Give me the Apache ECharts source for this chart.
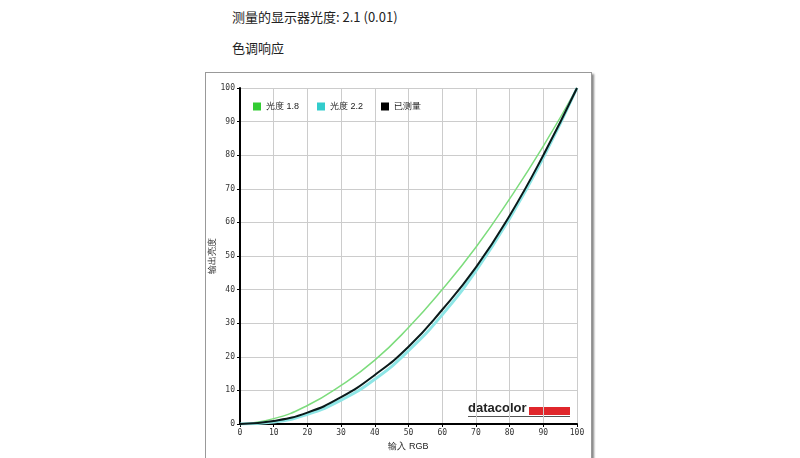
<!DOCTYPE html>
<html><head><meta charset="utf-8">
<script src="https://cdn.jsdelivr.net/npm/echarts@6/dist/echarts.min.js"></script>
<style>
body{margin:0;background:#fff;font-family:"Noto Sans CJK SC","Noto Sans",sans-serif;}
.t{position:absolute;left:232px;font-size:13px;color:#222;}
#box{position:absolute;left:205px;top:72px;width:385px;height:400px;border:1px solid #999;box-shadow:2px 2px 2px #888;}
#c{position:absolute;left:0;top:0;width:800px;height:458px;}
</style></head><body>
<div class="t" style="top:7px">测量的显示器光度: 2.1 (0.01)</div>
<div class="t" style="top:38px">色调响应</div>
<div id="box"></div>
<div id="c"></div>
<script>
const inputs = [0, 10, 20, 30, 40, 50, 60, 70, 80, 90, 100];
const gamma18 = [0, 1.6, 5.5, 11.5, 19, 28.7, 40, 52.6, 67, 82.7, 100];
const gamma22 = [0, 0.6, 2.9, 7.1, 13.3, 21.8, 32.5, 45.6, 61.2, 79.3, 100];
const measured = [0, 0.9, 3.4, 8, 14.6, 23, 34, 46.6, 62, 80, 100];

const pair = arr => inputs.map((x, i) => [x, arr[i]]);
const lbl = {fontSize: 8, color: '#333', fontFamily: 'DejaVu Sans Mono'};
const chart = echarts.init(document.getElementById('c'));
chart.setOption({
    animation: false,
    grid: {left: 240, right: 223, top: 88, bottom: 34},
    legend: {
        left: 248, top: 97, itemWidth: 8, itemHeight: 8, itemGap: 18,
        icon: 'rect', textStyle: {fontSize: 9, color: '#222'},
        data: ['光度 1.8', '光度 2.2', '已测量']
    },
    xAxis: {
        type: 'value', min: 0, max: 100, interval: 10,
        name: '输入 RGB', nameLocation: 'middle', nameGap: 14,
        nameTextStyle: {fontSize: 9, color: '#222'},
        axisLine: {lineStyle: {color: '#000', width: 2}},
        axisTick: {length: 3, lineStyle: {color: '#000'}},
        axisLabel: Object.assign({margin: 5}, lbl),
        splitLine: {lineStyle: {color: '#ccc'}}
    },
    yAxis: {
        type: 'value', min: 0, max: 100, interval: 10,
        name: '输出亮度', nameLocation: 'middle', nameGap: 22,
        nameTextStyle: {fontSize: 9, color: '#222'},
        axisLine: {show: true, lineStyle: {color: '#000', width: 2}},
        axisTick: {show: true, length: 3, lineStyle: {color: '#000'}},
        axisLabel: Object.assign({margin: 5}, lbl),
        splitLine: {lineStyle: {color: '#ccc'}}
    },
    series: [
        {name: '光度 1.8', type: 'line', smooth: true, symbol: 'none', data: pair(gamma18),
         itemStyle: {color: '#33cc33'}, lineStyle: {color: '#7ddc7d', width: 1.5}},
        {name: '光度 2.2', type: 'line', smooth: true, symbol: 'none', data: pair(gamma22),
         itemStyle: {color: '#33cccc'}, lineStyle: {color: '#8ee6e6', width: 3}},
        {name: '已测量', type: 'line', smooth: true, symbol: 'none', data: pair(measured),
         itemStyle: {color: '#000'}, lineStyle: {color: '#0a1a1a', width: 2}}
    ],
    graphic: [
        {type: 'text', left: 468, top: 402, style: {text: 'datacolor', font: 'bold 13px "Liberation Sans"', fill: '#222'}},
        {type: 'rect', shape: {x: 529, y: 407, width: 41, height: 8}, style: {fill: '#e0262b'}},
        {type: 'rect', shape: {x: 468, y: 416, width: 102, height: 1}, style: {fill: '#555'}}
    ]
});
</script>
</body></html>
